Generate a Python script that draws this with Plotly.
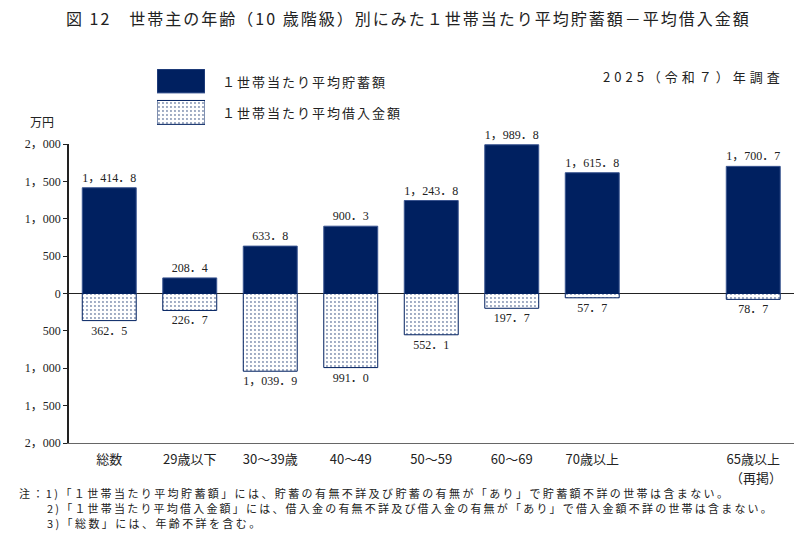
import plotly.graph_objects as go

W, H = 800, 535

categories = ["総数", "29歳以下", "30〜39歳", "40〜49", "50〜59", "60〜69", "70歳以上", "", "65歳以上"]
category_subnote = "（再掲）"
savings = [1414.8, 208.4, 633.8, 900.3, 1243.8, 1989.8, 1615.8, None, 1700.7]
debts = [362.5, 226.7, 1039.9, 991.0, 552.1, 197.7, 57.7, None, 78.7]
ytick_vals = [2000, 1500, 1000, 500, 0, -500, -1000, -1500, -2000]
ytick_text = ["2，000", "1，500", "1，000", "500", "0", "500", "1，000", "1，500", "2，000"]

NAVY = "#002060"
SERIF = "Liberation Serif, Noto Sans CJK JP"
SANS = "Noto Sans CJK JP"


def fmt(v):
    if v is None:
        return ""
    return f"{v:,.1f}".replace(",", "，").replace(".", "．")


def spaced(t, px):
    return f'<span style="letter-spacing:{px}px">{t}</span>'


xs = list(range(len(categories)))
PATTERN = dict(shape=".", fgcolor=NAVY, bgcolor="white", size=4, solidity=0.18)

fig = go.Figure()
fig.add_trace(go.Bar(
    x=xs, y=savings, width=0.67,
    marker=dict(color=NAVY, line=dict(color="#3a5590", width=1)),
    text=[fmt(v) for v in savings], textposition="outside",
    textfont=dict(family=SERIF, size=12, color="#222"),
    cliponaxis=False, showlegend=False,
))
fig.add_trace(go.Bar(
    x=xs, y=[-v if v is not None else None for v in debts], width=0.67,
    marker=dict(color="white", line=dict(color=NAVY, width=1), pattern=PATTERN),
    text=[fmt(v) for v in debts], textposition="outside",
    textfont=dict(family=SERIF, size=12, color="#222"),
    cliponaxis=False, showlegend=False,
))

# legend swatches on their own small axes
fig.add_trace(go.Bar(
    x=[1], y=[0], orientation="h", width=0.76, xaxis="x2", yaxis="y2",
    marker=dict(color=NAVY, line=dict(color="#3a5590", width=1)), showlegend=False, hoverinfo="skip",
))
fig.add_trace(go.Bar(
    x=[1], y=[1], orientation="h", width=0.76, xaxis="x2", yaxis="y2",
    marker=dict(color="white", line=dict(color=NAVY, width=1), pattern=PATTERN),
    showlegend=False, hoverinfo="skip",
))

left, right, top, bottom = 69, 793.5, 144, 443
fig.update_layout(
    width=W, height=H,
    margin=dict(l=0, r=0, t=0, b=0),
    paper_bgcolor="white", plot_bgcolor="white",
    barmode="overlay",
    font=dict(family=SANS, size=12, color="#222"),
    xaxis=dict(
        domain=[left / W, right / W], range=[-0.5, 8.5],
        tickvals=xs, ticktext=categories, ticks="",
        tickfont=dict(family=SANS, size=13, color="#222"),
        ticklabelstandoff=4,
        showline=True, linecolor="#666", linewidth=1, showgrid=False, zeroline=False,
        automargin=False, fixedrange=True,
    ),
    yaxis=dict(
        domain=[(H - bottom) / H, (H - top) / H], range=[-2000, 2000],
        tickvals=ytick_vals, ticktext=ytick_text,
        tickfont=dict(family=SERIF, size=12, color="#222"),
        ticks="outside", ticklen=4, tickcolor="#222",
        showline=True, linecolor="#222", linewidth=1.5, showgrid=False,
        zeroline=True, zerolinecolor="#222", zerolinewidth=1,
        automargin=False, fixedrange=True,
    ),
    xaxis2=dict(domain=[157 / W, 205 / W], range=[0, 1], visible=False, anchor="y2"),
    yaxis2=dict(domain=[(H - 125) / H, (H - 69) / H], range=[1.40, -0.38], visible=False, anchor="x2"),
)

ann = [
    dict(text=spaced("図 12　世帯主の年齢（10 歳階級）別にみた１世帯当たり平均貯蓄額－平均借入金額", 2),
         x=408 / W, y=1 - 18 / H, xanchor="center", yanchor="middle", font=dict(size=16, family=SANS)),
    dict(text=spaced("１世帯当たり平均貯蓄額", 2), x=220 / W, y=1 - 81 / H, xanchor="left", yanchor="middle",
         font=dict(size=13)),
    dict(text=spaced("１世帯当たり平均借入金額", 2), x=220 / W, y=1 - 112 / H, xanchor="left", yanchor="middle",
         font=dict(size=13)),
    dict(text=spaced("2025（令和７）年調査", 4), x=786 / W, y=1 - 76 / H, xanchor="right", yanchor="middle",
         font=dict(size=13)),
    dict(text="万円", x=28 / W, y=1 - 122 / H, xanchor="left", yanchor="middle", font=dict(size=12)),
    dict(text=spaced("注：1)「１世帯当たり平均貯蓄額」には、貯蓄の有無不詳及び貯蓄の有無が「あり」で貯蓄額不詳の世帯は含まない。", 2.4),
         x=17 / W, y=1 - 493 / H, xanchor="left", yanchor="middle", font=dict(size=11)),
    dict(text=spaced("2)「１世帯当たり平均借入金額」には、借入金の有無不詳及び借入金の有無が「あり」で借入金額不詳の世帯は含まない。", 2.2),
         x=45 / W, y=1 - 508 / H, xanchor="left", yanchor="middle", font=dict(size=11)),
    dict(text=spaced("3)「総数」には、年齢不詳を含む。", 2.4),
         x=45 / W, y=1 - 523 / H, xanchor="left", yanchor="middle", font=dict(size=11)),
]
for a in ann:
    a.update(xref="paper", yref="paper", showarrow=False)
ann.append(dict(text=category_subnote, x=xs[-1], xref="x", y=1 - 477 / H, yref="paper",
                xanchor="center", yanchor="middle", xshift=3, showarrow=False, font=dict(size=13)))
fig.update_layout(annotations=ann)

fig.write_html("out.html")
